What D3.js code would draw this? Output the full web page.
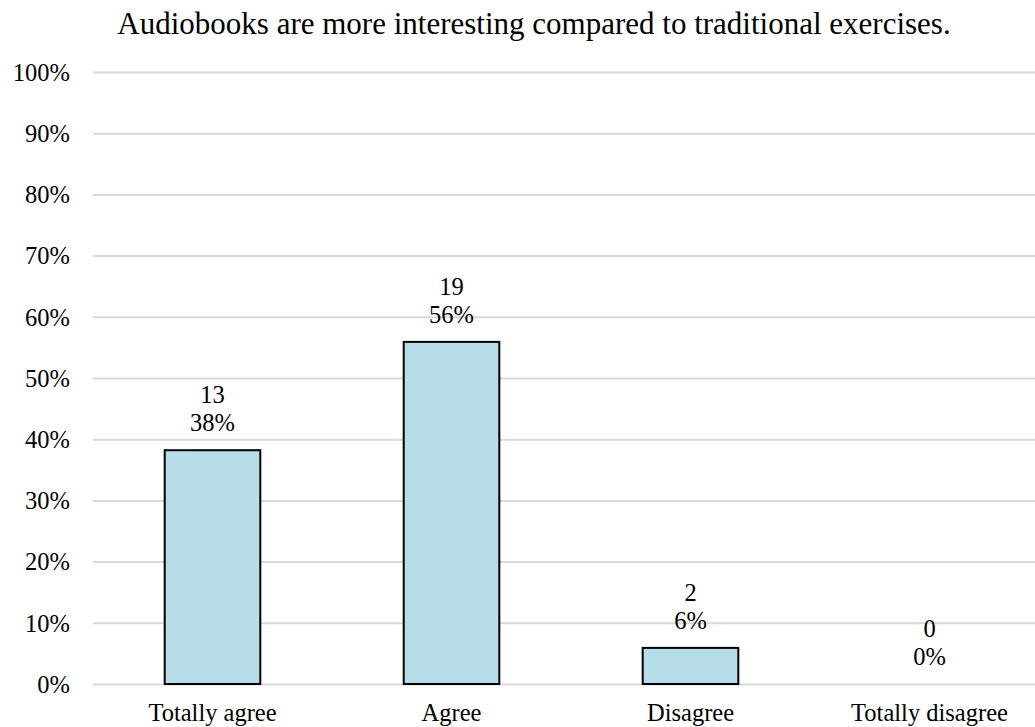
<!DOCTYPE html>
<html>
<head>
<meta charset="utf-8">
<script src="https://cdn.jsdelivr.net/npm/d3@7"></script>
<style>
  html, body { margin: 0; padding: 0; background: #fff; }
  svg { display: block; }
  text { font-family: "Liberation Serif", "Times New Roman", serif; fill: #000; }
</style>
</head>
<body>
<svg id="chart" width="1035" height="727"></svg>
<script>
// Survey answers: respondent counts and their share of all 34 responses
const categories = ["Totally agree", "Agree", "Disagree", "Totally disagree"];
const counts = [13, 19, 2, 0];
const shares = [0.382, 0.559, 0.059, 0];
const yTicks = [0, 0.1, 0.2, 0.3, 0.4, 0.5, 0.6, 0.7, 0.8, 0.9, 1.0];
const title = "Audiobooks are more interesting compared to traditional exercises.";

const svg = d3.select("#chart");
const W = 1035, H = 727;
const margin = { top: 72, right: -14, bottom: 43, left: 93 };

const x = d3.scaleBand()
  .domain(categories)
  .range([margin.left, W - margin.right])
  .paddingInner(0.6)
  .paddingOuter(0.3);

const y = d3.scaleLinear()
  .domain([0, 1])
  .range([H - margin.bottom, margin.top]);

// Title
svg.append("text")
  .attr("x", 534)
  .attr("y", 34)
  .attr("text-anchor", "middle")
  .style("font-size", "31px")
  .text(title);

// Horizontal gridlines with percent tick labels
const yAxis = d3.axisLeft(y)
  .tickValues(yTicks)
  .tickFormat(d3.format(".0%"))
  .tickSize(-(W - margin.right - margin.left))
  .tickPadding(23);

const gy = svg.append("g")
  .attr("transform", `translate(${margin.left},0)`)
  .call(yAxis);
gy.select(".domain").remove();
gy.selectAll(".tick line")
  .attr("stroke", "#d9d9d9")
  .attr("stroke-width", 2);
gy.selectAll(".tick text")
  .style("font-size", "24.5px")
  .attr("dy", "0.34em");

// Bars
svg.append("g")
  .selectAll("rect")
  .data(categories)
  .join("rect")
  .attr("x", d => x(d))
  .attr("width", x.bandwidth())
  .attr("y", (d, i) => y(shares[i]))
  .attr("height", (d, i) => y(0) - y(shares[i]))
  .attr("fill", "#b7dde8")
  .attr("stroke", "#000")
  .attr("stroke-width", 2)
  .attr("display", (d, i) => shares[i] > 0 ? null : "none");

// Value labels: count above percentage
const labels = svg.append("g")
  .selectAll("text")
  .data(categories)
  .join("text")
  .attr("text-anchor", "middle")
  .style("font-size", "24.5px")
  .attr("x", d => x(d) + x.bandwidth() / 2)
  .attr("y", (d, i) => y(shares[i]) - 47);
labels.append("tspan")
  .attr("x", d => x(d) + x.bandwidth() / 2)
  .text((d, i) => counts[i]);
labels.append("tspan")
  .attr("x", d => x(d) + x.bandwidth() / 2)
  .attr("dy", 28)
  .text((d, i) => d3.format(".0%")(shares[i]));

// Category axis labels
const xAxis = d3.axisBottom(x).tickSize(0).tickPadding(0);
const gx = svg.append("g")
  .attr("transform", `translate(0,${y(0)})`)
  .call(xAxis);
gx.select(".domain").remove();
gx.selectAll(".tick text")
  .style("font-size", "24.5px")
  .attr("dy", null)
  .attr("y", 37);
</script>
</body>
</html>
